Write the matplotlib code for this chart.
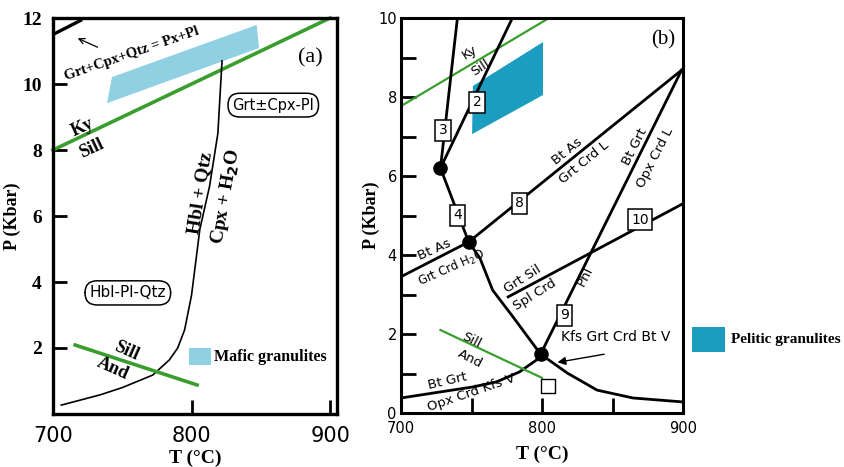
import matplotlib
matplotlib.use('Agg')
import matplotlib.pyplot as plt
from matplotlib.patches import Polygon, Rectangle

SERIF = 'Liberation Serif'
SANS = 'DejaVu Sans'
GREEN = '#3a9e2e'
LIGHT_BLUE = '#8fd0e2'
TEAL = '#1b9dc0'

# ---- panel (a): mafic granulites ----
a_xticks = [700, 800, 900]
a_yticks = [2, 4, 6, 8, 10, 12]
a_reaction_t = [700, 721]
a_reaction_p = [11.5, 11.95]
a_mafic_t = [739, 742.6, 847, 848.7]
a_mafic_p = [9.42, 10.21, 11.79, 11.09]
a_kysill_t = [700, 900]
a_kysill_p = [8.0, 12.0]
a_hbl_t = [822, 819, 813, 806, 800, 795, 790, 784, 772, 750, 734, 706]
a_hbl_p = [10.7, 8.5, 6.9, 5.6, 3.6, 2.55, 2.0, 1.64, 1.18, 0.8, 0.58, 0.27]
a_silland_t = [716, 804]
a_silland_p = [2.09, 0.88]

# ---- panel (b): pelitic granulites ----
b_xticks = [700, 800, 900]
b_yticks = [0, 2, 4, 6, 8, 10]
b_kysill_t = [700, 805]
b_kysill_p = [7.77, 10.0]
b_line3_t = [740, 728]
b_line3_p = [10.0, 6.2]
b_line2_t = [779, 754.5, 728]
b_line2_p = [10.0, 8.18, 6.2]
b_pelitic_t = [751, 750.4, 800.7, 800.7]
b_pelitic_p = [8.28, 7.06, 8.05, 9.39]
b_line4_t = [728, 748]
b_line4_p = [6.2, 4.33]
b_line8_t = [748, 899]
b_line8_p = [4.33, 8.68]
b_line9_t = [899, 799]
b_line9_p = [8.68, 1.49]
b_line10_t = [776, 900]
b_line10_p = [2.94, 5.3]
b_curve_t = [748, 756, 765, 779.5, 799, 818, 839, 864.5, 900]
b_curve_p = [4.33, 3.92, 3.11, 2.43, 1.49, 1.01, 0.58, 0.38, 0.28]
b_btas_t = [700, 748]
b_btas_p = [3.45, 4.33]
b_btgrt_t = [700, 751, 768, 784, 796]
b_btgrt_p = [0.38, 0.66, 0.79, 1.04, 1.34]
b_silland_t = [728, 800]
b_silland_p = [2.1, 0.89]
b_dots_t = [728, 748, 799]
b_dots_p = [6.2, 4.33, 1.49]
b_box_labels = ['3', '2', '4', '8', '10', '9']
b_box_t = [730, 754, 740, 784, 869.5, 816]
b_box_p = [7.16, 7.87, 5.01, 5.31, 4.89, 2.48]

fig = plt.figure(figsize=(8.44, 4.67), dpi=100)

# ================= panel (a) =================
ax = fig.add_axes([53 / 844, 1 - 414 / 467, 284 / 844, 396 / 467])
ax.set_xlim(700, 905)
ax.set_ylim(0, 12)
for s in ax.spines.values():
    s.set_linewidth(2.4)

ax.add_patch(Polygon(list(zip(a_mafic_t, a_mafic_p)), closed=True,
                     fc=LIGHT_BLUE, ec='none'))
ax.plot(a_reaction_t, a_reaction_p, color='black', lw=2.4, solid_capstyle='butt')
ax.plot(a_kysill_t, a_kysill_p, color=GREEN, lw=2.6, clip_on=False)
ax.plot(a_hbl_t, a_hbl_p, color='black', lw=1.2)
ax.plot(a_silland_t, a_silland_p, color=GREEN, lw=2.6)

ax.annotate('', xy=(716, 11.42), xytext=(734, 11.08),
            arrowprops=dict(arrowstyle='->', color='black', lw=0.9))
ax.text(757, 10.9, 'Grt+Cpx+Qtz = Px+Pl', family=SERIF, weight='bold',
        fontsize=10.5, rotation=19, ha='center', va='center')
ax.text(721, 8.67, 'Ky', family=SERIF, weight='bold', fontsize=13,
        rotation=25, ha='center', va='center')
ax.text(728, 8.05, 'Sill', family=SERIF, weight='bold', fontsize=13,
        rotation=25, ha='center', va='center')
ax.text(806, 6.7, 'Hbl + Qtz', family=SERIF, weight='bold', fontsize=14,
        rotation=81, ha='center', va='center')
ax.text(825, 6.6, 'Cpx + H$_\\mathbf{2}$O', family=SERIF, weight='bold', fontsize=14,
        rotation=80, ha='center', va='center')
ax.text(886, 10.8, '(a)', family=SERIF, fontsize=16, ha='center', va='center')
ax.text(859, 9.36, 'Grt\u00b1Cpx-Pl', family=SANS, fontsize=10.5,
        ha='center', va='center',
        bbox=dict(boxstyle='round,pad=0.3,rounding_size=0.8', fc='white',
                  ec='black', lw=1.1))
ax.text(754, 3.67, 'Hbl-Pl-Qtz', family=SANS, fontsize=11,
        ha='center', va='center',
        bbox=dict(boxstyle='round,pad=0.3,rounding_size=0.8', fc='white',
                  ec='black', lw=1.1))
ax.text(753, 1.9, 'Sill', family=SERIF, weight='bold', fontsize=13,
        rotation=-24, ha='center', va='center')
ax.text(743, 1.38, 'And', family=SERIF, weight='bold', fontsize=13,
        rotation=-24, ha='center', va='center')

ax.add_patch(Rectangle((798, 1.48), 16, 0.52, fc=LIGHT_BLUE, ec='none'))
ax.text(816, 1.72, 'Mafic granulites', family=SERIF, weight='bold',
        fontsize=11.5, ha='left', va='center')

ax.set_xticks(a_xticks)
ax.set_xticklabels([str(t) for t in a_xticks], family=SANS, fontsize=15)
ax.set_yticks(a_yticks)
ax.set_yticklabels([str(t) for t in a_yticks], family=SERIF, weight='bold',
                   fontsize=14)
ax.tick_params(axis='both', direction='in', length=10, width=2, pad=8)
ax.tick_params(axis='x', pad=9)
ax.set_xlabel('T (\u00b0C)', family=SERIF, weight='bold', fontsize=14, labelpad=2)
ax.set_ylabel('P (Kbar)', family=SERIF, weight='bold', fontsize=13, labelpad=1)

# ================= panel (b) =================
bx = fig.add_axes([401 / 844, 1 - 413 / 467, 282 / 844, 395 / 467])
bx.set_xlim(700, 900)
bx.set_ylim(0, 10)
for s in bx.spines.values():
    s.set_linewidth(2.2)

bx.add_patch(Polygon(list(zip(b_pelitic_t, b_pelitic_p)), closed=True,
                     fc=TEAL, ec='none'))
bx.plot(b_kysill_t, b_kysill_p, color=GREEN, lw=1.6)
for t, p in [(b_line3_t, b_line3_p), (b_line2_t, b_line2_p),
             (b_line4_t, b_line4_p), (b_line8_t, b_line8_p),
             (b_line9_t, b_line9_p), (b_line10_t, b_line10_p),
             (b_curve_t, b_curve_p), (b_btas_t, b_btas_p),
             (b_btgrt_t, b_btgrt_p)]:
    bx.plot(t, p, color='black', lw=2.0)
bx.plot(b_silland_t, b_silland_p, color=GREEN, lw=1.6)
bx.scatter(b_dots_t, b_dots_p, s=90, color='black', zorder=5)
bx.scatter([804], [0.68], s=90, marker='s', facecolor='white',
           edgecolor='black', lw=1.0, zorder=5)

for lab, t, p in zip(b_box_labels, b_box_t, b_box_p):
    bx.text(t, p, lab, family=SANS, fontsize=10, ha='center', va='center',
            zorder=6, bbox=dict(boxstyle='square,pad=0.25', fc='white',
                                ec='black', lw=1.1))

small = dict(family=SANS, fontsize=9.5, ha='center', va='center')
bx.text(749, 9.14, 'Ky', rotation=33, **small)
bx.text(756, 8.73, 'Sill', rotation=33, **small)
bx.text(818, 6.62, 'Bt As', rotation=39, **small)
bx.text(829.5, 6.35, 'Grt Crd L', rotation=39, **small)
bx.text(866, 6.75, 'Bt Grt', rotation=63, **small)
bx.text(880, 6.45, 'Opx Crd L', rotation=63, **small)
bx.text(831, 3.45, 'Phl', rotation=63, **small)
bx.text(786, 3.4, 'Grt Sil', rotation=32, **small)
bx.text(795, 3.0, 'Spl Crd', rotation=32, **small)
bx.text(724, 4.12, 'Bt As', rotation=24, **small)
bx.text(735.5, 3.68, 'Grt Crd H$_2$O', rotation=24,
        family=SANS, fontsize=8.5, ha='center', va='center')
bx.text(750, 1.85, 'Sill', rotation=-27, **small)
bx.text(749, 1.36, 'And', rotation=-27, **small)
bx.text(733, 0.8, 'Bt Grt', rotation=13, **small)
bx.text(750, 0.5, 'Opx Crd Kfs V', rotation=19, **small)
bx.text(852, 1.92, 'Kfs Grt Crd Bt V', family=SANS, fontsize=10,
        ha='center', va='center')
bx.annotate('', xy=(809, 1.27), xytext=(846, 1.5),
            arrowprops=dict(arrowstyle='-|>', color='black', lw=1.0,
                            mutation_scale=12))
bx.text(886, 9.44, '(b)', family=SERIF, fontsize=15, ha='center', va='center')

bx.add_patch(Rectangle((906.4, 1.54), 23.4, 0.64, fc=TEAL, ec='none',
                       clip_on=False))
bx.text(934, 1.86, 'Pelitic granulites', family=SERIF, weight='bold',
        fontsize=11, ha='left', va='center', clip_on=False)

bx.set_xticks(b_xticks)
bx.set_xticks([750, 850], minor=True)
bx.set_xticklabels([str(t) for t in b_xticks], family=SANS, fontsize=10.5)
bx.set_yticks(b_yticks)
bx.set_yticks([1, 3, 5, 7, 9], minor=True)
bx.set_yticklabels([str(t) for t in b_yticks], family=SANS, fontsize=10.5)
bx.tick_params(axis='both', which='both', direction='in', length=11, width=2,
               pad=3)
bx.tick_params(axis='x', pad=6)
bx.set_xlabel('T (\u00b0C)', family=SERIF, weight='bold', fontsize=14, labelpad=7)
bx.set_ylabel('P (Kbar)', family=SERIF, weight='bold', fontsize=13, labelpad=-1)

fig.savefig('out.png', dpi=100)
